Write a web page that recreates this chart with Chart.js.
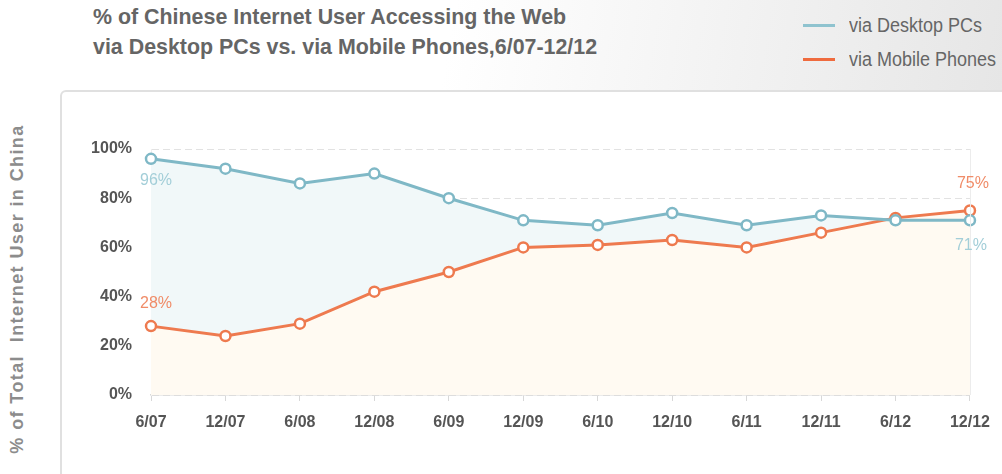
<!DOCTYPE html>
<html>
<head>
<meta charset="utf-8">
<script src="https://cdn.jsdelivr.net/npm/chart.js@4"></script>
<style>
  html, body { margin: 0; padding: 0; }
  body {
    width: 1002px; height: 474px; overflow: hidden; position: relative;
    background: linear-gradient(100deg, #ffffff 42%, #e3e3e3 100%);
    font-family: "Liberation Sans", Arial, sans-serif;
  }
  #panel {
    position: absolute; left: 60px; top: 90px; width: 1000px; height: 500px;
    background: #fff; border: 2px solid #e0e0e0; border-radius: 6px;
  }
  #titre {
    position: absolute; left: 93px; top: 2px;
    font-size: 21.4px; line-height: 30px; font-weight: bold; color: #656565;
  }
  #legende {
    position: absolute; left: 849px; top: 8px;
    font-size: 20px; line-height: 34px; color: #666; white-space: nowrap;
    transform: scaleX(0.9); transform-origin: 0 0;
  }
  .trait { position: absolute; left: 803px; width: 32px; height: 3px; }
  #tituloY {
    position: absolute; left: 17px; top: 289px; white-space: nowrap;
    transform: translate(-50%, -50%) rotate(-90deg);
    font-size: 18px; font-weight: bold; letter-spacing: 1.4px; color: #8c8c8c;
  }
  #grafico { position: absolute; left: 0; top: 0; }
</style>
</head>
<body>
<div id="panel"></div>
<div id="titre">% of Chinese Internet User Accessing the Web<br>via Desktop PCs vs. via Mobile Phones,6/07-12/12</div>
<div class="trait" style="top:24px;background:#8fc3cf"></div>
<div class="trait" style="top:58px;background:#ef6b3e"></div>
<div id="legende">via Desktop PCs<br>via Mobile Phones</div>
<div id="tituloY">% of Total&nbsp; Internet User in China</div>
<canvas id="grafico" width="1002" height="474"></canvas>
<script>
// Periodos (semestres)
const periodos = ['6/07', '12/07', '6/08', '12/08', '6/09', '12/09', '6/10', '12/10', '6/11', '12/11', '6/12', '12/12'];

// % de usuarios via desktop
const viaDesktop = [96, 92, 86, 90, 80, 71, 69, 74, 69, 73, 71, 71];

// % de usuarios via celular
const viaMobile = [28, 24, 29, 42, 50, 60, 61, 63, 60, 66, 72, 75];

// Ticks do eixo Y
const ticksY = [0, 20, 40, 60, 80, 100];

const azul = '#7fb8c6';
const laranja = '#ee7a4f';

// Rotulos no primeiro e ultimo ponto de cada serie
const rotulosPlugin = {
    id: 'rotulos',
    afterDatasetsDraw(chart) {
        const ctx = chart.ctx;
        const area = chart.chartArea;
        // linha vertical na direita da area
        ctx.save();
        ctx.strokeStyle = '#ececec';
        ctx.lineWidth = 1;
        ctx.beginPath();
        ctx.moveTo(area.right + 0.5, area.top);
        ctx.lineTo(area.right + 0.5, area.bottom);
        ctx.stroke();

        ctx.font = '16px "Liberation Sans", Arial, sans-serif';
        ctx.textAlign = 'center';
        ctx.textBaseline = 'middle';
        const desk = chart.getDatasetMeta(0).data;
        const mob = chart.getDatasetMeta(1).data;
        const ultimo = periodos.length - 1;

        ctx.fillStyle = '#a3ced8';
        ctx.fillText(viaDesktop[0] + '%', desk[0].x + 5, desk[0].y + 22);
        ctx.fillText(viaDesktop[ultimo] + '%', desk[ultimo].x + 1, desk[ultimo].y + 25);

        ctx.fillStyle = '#f08c68';
        ctx.fillText(viaMobile[0] + '%', mob[0].x + 5, mob[0].y - 23);
        ctx.fillText(viaMobile[ultimo] + '%', mob[ultimo].x + 3, mob[ultimo].y - 27);
        ctx.restore();
    }
};

const ctxGrafico = document.getElementById('grafico').getContext('2d');
new Chart(ctxGrafico, {
    type: 'line',
    data: {
        labels: periodos,
        datasets: [{
            label: 'via Desktop PCs',
            data: viaDesktop,
            borderColor: azul,
            borderWidth: 3,
            pointRadius: 5,
            pointBorderWidth: 2.5,
            pointBackgroundColor: '#fff',
            pointBorderColor: azul,
            fill: { target: 1, above: '#f1f8f9', below: '#fffaf2' },
            tension: 0
        }, {
            label: 'via Mobile Phones',
            data: viaMobile,
            borderColor: laranja,
            borderWidth: 3,
            pointRadius: 5,
            pointBorderWidth: 2.5,
            pointBackgroundColor: '#fff',
            pointBorderColor: laranja,
            fill: { target: 'origin', above: '#fffaf2' },
            tension: 0
        }]
    },
    options: {
        responsive: false,
        animation: false,
        layout: { padding: { left: 0, top: 149, right: 29, bottom: 0 } },
        plugins: {
            legend: { display: false },
            title: { display: false },
            tooltip: { enabled: false },
            filler: { drawTime: 'beforeDatasetsDraw' }
        },
        scales: {
            x: {
                offset: false,
                afterFit(scale) { scale.height = 79; },
                grid: { drawOnChartArea: false, drawTicks: true, tickLength: 6, color: '#d8d8d8' },
                border: { color: '#d8d8d8', width: 1.5 },
                ticks: {
                    autoSkip: false, maxRotation: 0, padding: 12, color: '#555',
                    font: { family: '"Liberation Sans", Arial, sans-serif', size: 16, weight: 'bold' }
                }
            },
            y: {
                min: 0,
                max: 100,
                afterFit(scale) { scale.width = 151; },
                afterBuildTicks(scale) { scale.ticks = ticksY.map(v => ({ value: v })); },
                grid: { drawTicks: false, color: '#e2e2e2', lineWidth: 1 },
                border: { color: '#eeeeee', dash: [7, 4], width: 1 },
                ticks: {
                    padding: 19, color: '#555',
                    font: { family: '"Liberation Sans", Arial, sans-serif', size: 16, weight: 'bold' },
                    callback: v => v + '%'
                }
            }
        }
    },
    plugins: [rotulosPlugin]
});
</script>
</body>
</html>
